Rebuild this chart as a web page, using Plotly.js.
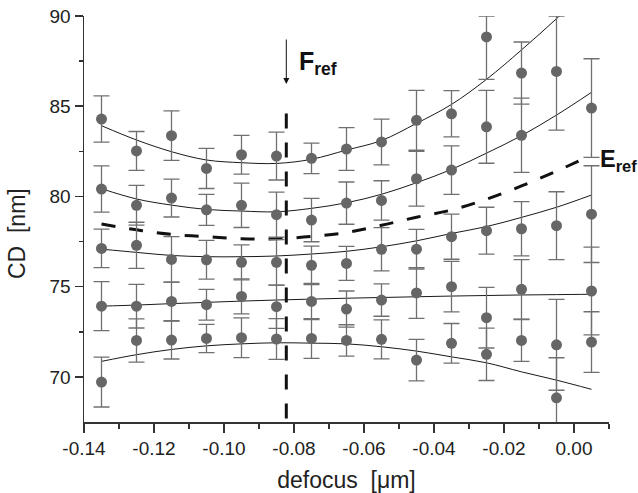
<!DOCTYPE html>
<html>
<head>
<meta charset="utf-8">
<script src="https://cdn.plot.ly/plotly-3.0.1.min.js"></script>
<style>html,body{margin:0;padding:0;background:#fff;}#chart{width:638px;height:493px;}</style>
</head>
<body>
<div id="chart"></div>
<script>
// ---- data ----
const defocus = [-0.135, -0.125, -0.115, -0.105, -0.095, -0.085, -0.075, -0.065, -0.055, -0.045, -0.035, -0.025, -0.015, -0.005, 0.005];

const cd1  = [84.29, 82.52, 83.37, 81.55, 82.31, 82.24, 82.11, 82.63, 83.02, 84.22, 84.58, 88.84, 86.84, 86.93, null];
const err1 = [1.28, 1.08, 1.37, 1.11, 1.07, 1.33, 0.84, 1.18, 1.27, 1.66, 1.28, 2.35, 1.72, 3.25, null];
// upper bars as visible (two run off the top of the frame at 90 nm)
const err1Up = [1.28, 1.08, 1.37, 1.11, 1.07, 1.33, 0.84, 1.18, 1.27, 1.66, 1.28, 1.16, 1.72, 3.07, null];
const cd2  = [80.41, 79.51, 79.91, 79.26, 79.51, 78.99, 78.69, 79.63, 79.78, 80.98, 81.46, 83.86, 83.39, null, 84.90];
const err2 = [1.28, 1.10, 1.05, 0.86, 1.23, 1.25, 1.20, 1.17, 1.09, 1.52, 1.34, 2.02, 2.06, null, 2.73];
const cd3  = [77.12, 77.29, 76.51, 76.49, 76.35, 76.35, 76.18, 76.29, 77.07, 77.08, 77.77, 78.10, 78.21, 78.38, 79.02];
const err3 = [1.07, 1.28, 1.26, 1.07, 0.97, 1.26, 1.07, 0.94, 1.20, 1.10, 1.25, 1.30, 1.50, 1.88, 2.68];
const cd4  = [73.92, 73.92, 74.18, 74.00, 74.46, 73.89, 74.18, 73.76, 74.26, 74.65, 75.00, 73.28, 74.85, 71.78, 74.76];
const err4 = [1.36, 1.21, 1.07, 0.85, 0.97, 1.20, 1.00, 1.00, 0.90, 1.41, 1.40, 1.68, 1.65, 2.52, 2.43];
const cd5  = [69.71, 72.02, 72.04, 72.13, 72.17, 72.10, 72.13, 72.02, 72.08, 70.93, 71.86, 71.25, 72.02, 68.84, 71.93];
const err5 = [1.38, 1.20, 1.05, 0.78, 1.10, 1.13, 1.10, 0.87, 1.08, 1.15, 1.10, 1.45, 1.16, 2.22, 1.68];

// fitted curves, read at the same defocus positions
const fit1 = [83.92, 83.13, 82.48, 82.02, 81.87, 81.83, 82.06, 82.57, 83.10, 84.05, 85.10, 86.49, 88.12, 89.85, 91.70];
const fit2 = [80.43, 79.86, 79.52, 79.28, 79.19, 79.15, 79.34, 79.65, 80.12, 80.76, 81.50, 82.40, 83.37, 84.51, 85.77];
const fit3 = [77.08, 76.90, 76.73, 76.66, 76.66, 76.70, 76.81, 76.96, 77.21, 77.54, 77.95, 78.33, 78.84, 79.40, 80.08];
const fit4 = [73.92, 73.98, 74.06, 74.13, 74.20, 74.26, 74.31, 74.36, 74.40, 74.44, 74.48, 74.51, 74.54, 74.56, 74.58];
const fit5 = [70.86, 71.23, 71.52, 71.72, 71.83, 71.89, 71.87, 71.83, 71.67, 71.43, 71.11, 70.78, 70.28, 69.82, 69.31];
const fitERef = [78.47, 78.15, 77.90, 77.77, 77.65, 77.66, 77.78, 78.00, 78.40, 78.85, 79.25, 79.85, 80.58, 81.40, 82.30];

// reference focus line
const fRefX = [-0.0822, -0.0822];
const fRefY = [84.6, 67.5];
const fRefArrowTip = 86.23;

// tick labels
const xTickVals = [-0.14, -0.12, -0.10, -0.08, -0.06, -0.04, -0.02, 0.00];
const xTickText = ["-0.14", "-0.12", "-0.10", "-0.08", "-0.06", "-0.04", "-0.02", "0.00"];
const xMinorVals = [-0.13, -0.11, -0.09, -0.07, -0.05, -0.03, -0.01, 0.01];
const yTickVals = [70, 75, 80, 85, 90];
const yTickText = ["70", "75", "80", "85", "90"];
const yMinorVals = [72.5, 77.5, 82.5, 87.5];

// ---- traces ----
const fits = [fit1, fit2, fit3, fit4, fit5];
const cds = [cd1, cd2, cd3, cd4, cd5];
const errs = [err1, err2, err3, err4, err5];
const errsUp = [err1Up, err2, err3, err4, err5];
const traces = [];
fits.forEach(f => traces.push({
  x: defocus, y: f, mode: 'lines', type: 'scatter', hoverinfo: 'skip',
  line: {color: '#1a1a1a', width: 1, shape: 'spline', smoothing: 1}
}));
traces.push({
  x: defocus, y: fitERef, mode: 'lines', type: 'scatter',
  line: {color: '#111', width: 3, dash: '14px,14px', shape: 'spline', smoothing: 1}
});
cds.forEach((c, i) => traces.push({
  x: defocus, y: c, mode: 'markers', type: 'scatter',
  marker: {size: 11, color: '#666666'},
  error_y: {type: 'data', symmetric: false, array: errsUp[i], arrayminus: errs[i], visible: true,
            color: '#707070', thickness: 1.3, width: 8}
}));
traces.push({
  x: fRefX, y: fRefY, mode: 'lines', type: 'scatter',
  line: {color: '#111', width: 3, dash: '15px,14px'}
});

const axisCommon = {
  showgrid: false, zeroline: false, showline: true, linecolor: '#333', linewidth: 1.5,
  ticks: 'outside', tickcolor: '#333', tickwidth: 1.5, mirror: false,
  tickfont: {size: 19, color: '#222', family: 'Liberation Sans, Arial, sans-serif'}
};

const layout = {
  width: 638, height: 493,
  margin: {l: 84, r: 29, t: 16, b: 71},
  paper_bgcolor: '#fff', plot_bgcolor: '#fff',
  showlegend: false,
  font: {family: 'Liberation Sans, Arial, sans-serif', color: '#222'},
  xaxis: Object.assign({}, axisCommon, {
    range: [-0.14, 0.01], tickmode: 'array', tickvals: xTickVals, ticktext: xTickText, ticklen: 9,
    minor: {tickmode: 'array', tickvals: xMinorVals, ticklen: 5, tickwidth: 1.5, tickcolor: '#333', ticks: 'outside'},
    title: {text: 'defocus\u00A0 [\u03BCm]', font: {size: 23, color: '#222'}, standoff: 14}
  }),
  yaxis: Object.assign({}, axisCommon, {
    range: [67.5, 90], tickmode: 'array', tickvals: yTickVals, ticktext: yTickText, ticklen: 8,
    minor: {tickmode: 'array', tickvals: yMinorVals, ticklen: 4, tickwidth: 1.5, tickcolor: '#333', ticks: 'outside'}
  }),
  annotations: [
    {x: -0.1276, y: 0.463, xref: 'paper', yref: 'paper', text: 'CD\u00A0 [nm]', textangle: -90,
     showarrow: false, xanchor: 'center', yanchor: 'middle', font: {size: 23, color: '#222'}},
    {x: fRefX[0], y: fRefArrowTip, xref: 'x', yref: 'y', text: '', showarrow: true,
     ax: 0, ay: -46, arrowhead: 2, arrowsize: 1.2, arrowwidth: 1, arrowcolor: '#111'},
    {x: -0.0791, y: 87.4, xref: 'x', yref: 'y', text: '<b>F<sub>ref</sub></b>', showarrow: false,
     xanchor: 'left', yanchor: 'middle', font: {size: 25, color: '#111'}},
    {x: 0.00705, y: 82.0, xref: 'x', yref: 'y', text: '<b>E<sub>ref</sub></b>', showarrow: false,
     xanchor: 'left', yanchor: 'middle', font: {size: 23.5, color: '#111'}, borderpad: 0}
  ]
};

Plotly.newPlot('chart', traces, layout, {staticPlot: true, displayModeBar: false});
</script>
</body>
</html>
